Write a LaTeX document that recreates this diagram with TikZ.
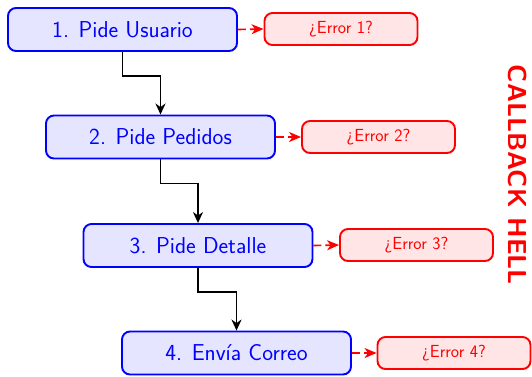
\documentclass[tikz,border=0pt]{standalone}
\usetikzlibrary{arrows.meta}
\renewcommand{\familydefault}{\sfdefault}
\begin{document}
\begin{tikzpicture}[x=1pt,y=-1pt,
  stepbox/.style={draw=blue, fill=blue!10, text=blue, line width=1.9pt,
    rounded corners=8pt, minimum width=229pt, minimum height=43pt,
    inner sep=0pt, font=\fontsize{23}{26}\selectfont},
  errbox/.style={draw=red, fill=red!10, text=red, line width=1.9pt,
    rounded corners=8pt, minimum width=153pt, minimum height=32pt,
    inner sep=0pt, font=\fontsize{17.5}{20}\selectfont},
  flow/.style={draw=black, line width=1.6pt, -{Stealth[length=11pt,width=10pt,inset=3.5pt]}},
  fail/.style={draw=red, line width=1.6pt, dash pattern=on 8pt off 4pt,
    -{Stealth[length=12pt,width=10pt,inset=3.5pt]}}]
\useasboundingbox (0,0) rectangle (532,376);

\node[stepbox] (s1) at (122.5,29.5) {1. Pide Usuario};
\node[stepbox] (s2) at (160.5,137)  {2. Pide Pedidos};
\node[stepbox] (s3) at (198,245.5)  {3. Pide Detalle};
\node[stepbox] (s4) at (236.5,353)  {4. Envía Correo};

\node[errbox] (e1) at (341,29)    {¿Error 1?};
\node[errbox] (e2) at (378.5,137) {¿Error 2?};
\node[errbox] (e3) at (416.5,245) {¿Error 3?};
\node[errbox] (e4) at (454,353)   {¿Error 4?};

\draw[flow] (s1.south) -- ++(0,24) -| (s2.north);
\draw[flow] (s2.south) -- ++(0,24) -| (s3.north);
\draw[flow] (s3.south) -- ++(0,24) -| (s4.north);

\draw[fail] (s1.east) -- (e1.west);
\draw[fail] (s2.east) -- (e2.west);
\draw[fail] (s3.east) -- (e3.west);
\draw[fail] (s4.east) -- (e4.west);

\node[rotate=-90, text=red, font=\fontsize{26}{30}\bfseries\selectfont] (title) at (518,175) {CALLBACK HELL};
\end{tikzpicture}
\end{document}
